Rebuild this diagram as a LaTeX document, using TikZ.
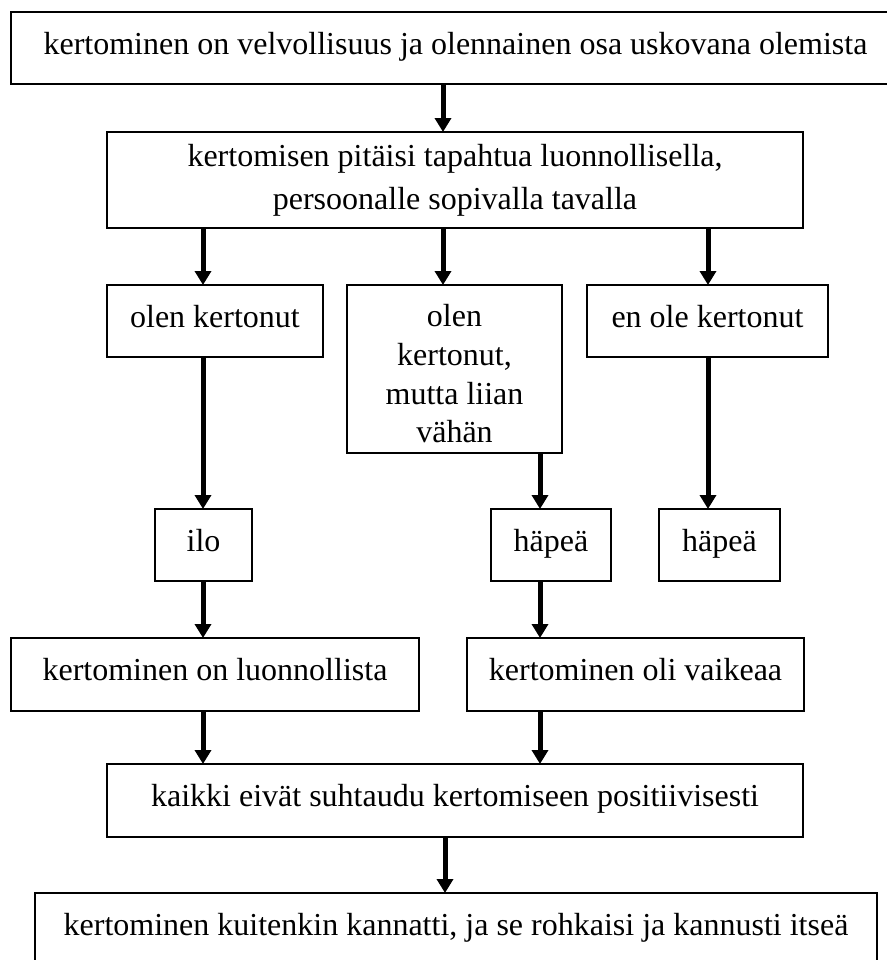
\documentclass[tikz,border=0pt]{standalone}
\usepackage{fontspec}
\setmainfont{Liberation Serif}
\usetikzlibrary{arrows.meta}
\begin{document}
\begin{tikzpicture}[x=0.75pt,y=-0.75pt,
  box/.style={draw, line width=1.4pt, rectangle, inner sep=0pt, outer sep=0pt,
    align=center, font=\fontsize{24}{28}\selectfont},
  one/.style={text height=16.8pt, text depth=7.5pt},
  flow/.style={line width=3.75pt, -{Triangle[width=12pt,length=10.5pt]}}]
\useasboundingbox (0,0) rectangle (886,960);

% boxes
\node[box, one, minimum width=666.75pt, minimum height=54pt] (top) at (455.5,48)
  {kertominen on velvollisuus ja olennainen osa uskovana olemista};
\node[box, font=\fontsize{24}{32}\selectfont, minimum width=522pt, minimum height=72pt] (duty) at (455,180)
  {kertomisen pitäisi tapahtua luonnollisella,\\persoonalle sopivalla tavalla};
\node[box, one, minimum width=162pt, minimum height=54pt] (told) at (215,321) {olen kertonut};
\node[box, font=\fontsize{24}{29}\selectfont, minimum width=161.25pt, minimum height=126pt] (little) at (454.5,369)
  {\rule{0pt}{24pt}olen\\kertonut,\\mutta liian\\vähän};
\node[box, one, minimum width=180.75pt, minimum height=54pt] (nottold) at (707.5,321) {en ole kertonut};
\node[box, one, minimum width=72.75pt, minimum height=54pt] (joy) at (203.5,545) {ilo};
\node[box, one, minimum width=90pt, minimum height=54pt] (shameA) at (551,545) {häpeä};
\node[box, one, minimum width=90.75pt, minimum height=54pt] (shameB) at (719.5,545) {häpeä};
\node[box, one, minimum width=306pt, minimum height=54.75pt] (natural) at (215,674.5) {kertominen on luonnollista};
\node[box, one, minimum width=252.75pt, minimum height=54.75pt] (hard) at (635.5,674.5) {kertominen oli vaikeaa};
\node[box, one, minimum width=522pt, minimum height=54.75pt] (notall) at (455,800.5)
  {kaikki eivät suhtaudu kertomiseen positiivisesti};
\node[box, one, minimum width=631.5pt, minimum height=54pt] (worth) at (456,929)
  {kertominen kuitenkin kannatti, ja se rohkaisi ja kannusti itseä};

% arrow columns
\coordinate (colA) at (203,0);
\coordinate (colM) at (443,0);
\coordinate (colB) at (540,0);
\coordinate (colC) at (708,0);
\coordinate (colD) at (445,0);

% connectors
\draw[flow] (top.south -| colM) -- (duty.north -| colM);
\draw[flow] (duty.south -| colA) -- (told.north -| colA);
\draw[flow] (duty.south -| colM) -- (little.north -| colM);
\draw[flow] (duty.south -| colC) -- (nottold.north -| colC);
\draw[flow] (told.south -| colA) -- (joy.north -| colA);
\draw[flow] (little.south -| colB) -- (shameA.north -| colB);
\draw[flow] (nottold.south -| colC) -- (shameB.north -| colC);
\draw[flow] (joy.south -| colA) -- (natural.north -| colA);
\draw[flow] (shameA.south -| colB) -- (hard.north -| colB);
\draw[flow] (natural.south -| colA) -- (notall.north -| colA);
\draw[flow] (hard.south -| colB) -- (notall.north -| colB);
\draw[flow] (notall.south -| colD) -- (worth.north -| colD);
\end{tikzpicture}
\end{document}
